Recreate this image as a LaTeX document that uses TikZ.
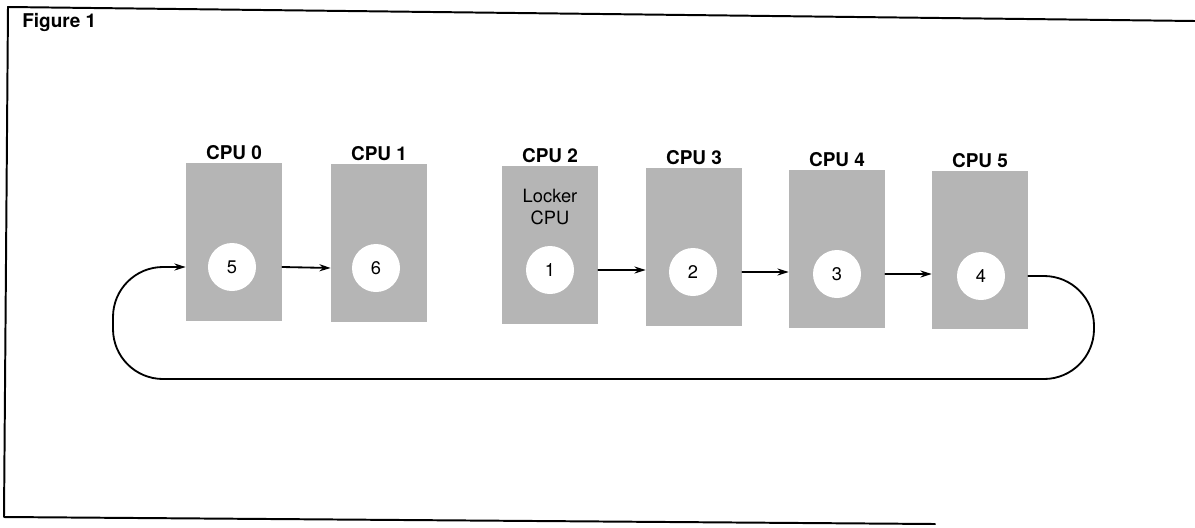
\documentclass[tikz,border=0pt]{standalone}
\usepackage{fontspec}
\setmainfont{TeX Gyre Heros}
\usetikzlibrary{arrows.meta}

\tikzset{
  cpubox/.style={fill=black!29,minimum width=2.4cm,minimum height=3.93cm,inner sep=0pt},
  cputitle/.style={font=\bfseries\fontsize{13.5}{15}\selectfont,inner sep=2pt},
  stepdot/.style={circle,fill=white,minimum size=1.2cm,inner sep=0pt,font=\fontsize{13}{15}\selectfont},
  pass/.style={->,line width=1.3pt}
}

\begin{document}
\begin{tikzpicture}[x=0.025cm,y=-0.025cm,>={Stealth[length=8pt,width=5pt]},line join=round,line cap=round]
  \useasboundingbox (0,0) rectangle (1195,527);
  % frame
  \draw[line width=1.4pt] (1195,21)--(8,7)--(4,517)--(935,524);
  \node[anchor=base west,font=\bfseries\fontsize{13.5}{15}\selectfont,inner sep=0pt] (fig) at (22,27) {Figure 1};

  % the six CPUs
  \node[cpubox,label={[cputitle]above:CPU 0}] (cpu0) at (234,242) {};
  \node[cpubox,label={[cputitle]above:CPU 1}] (cpu1) at (379,243) {};
  \node[cpubox,label={[cputitle]above:CPU 2}] (cpu2) at (550,245) {};
  \node[cpubox,label={[cputitle]above:CPU 3}] (cpu3) at (694,247) {};
  \node[cpubox,label={[cputitle]above:CPU 4}] (cpu4) at (837,249) {};
  \node[cpubox,label={[cputitle]above:CPU 5}] (cpu5) at (980,250) {};
  \node[align=center,font=\fontsize{13}{15}\selectfont] (locker) at (550,207) {Locker\\CPU};

  % order in which the CPUs take part
  \node[stepdot] (n5) at (232,267) {5};
  \node[stepdot] (n6) at (376,268) {6};
  \node[stepdot] (n1) at (550,270) {1};
  \node[stepdot] (n2) at (693,272) {2};
  \node[stepdot] (n3) at (837,274) {3};
  \node[stepdot] (n4) at (981,276) {4};

  \draw[pass] (n5 -| cpu0.east)--(n6 -| cpu1.west);
  \draw[pass] (n1 -| cpu2.east)--(n1 -| cpu3.west);
  \draw[pass] (n2 -| cpu3.east)--(n2 -| cpu4.west);
  \draw[pass] (n3 -| cpu4.east)--(n3 -| cpu5.west);

  % back round to CPU 0
  \coordinate (loopR) at (1094,379);
  \coordinate (loopL) at (113,375);
  \draw[pass,rounded corners=1.25cm] (n4 -| cpu5.east) -| (loopR) -| (n5 -| loopL) -- (n5 -| cpu0.west);
\end{tikzpicture}
\end{document}
